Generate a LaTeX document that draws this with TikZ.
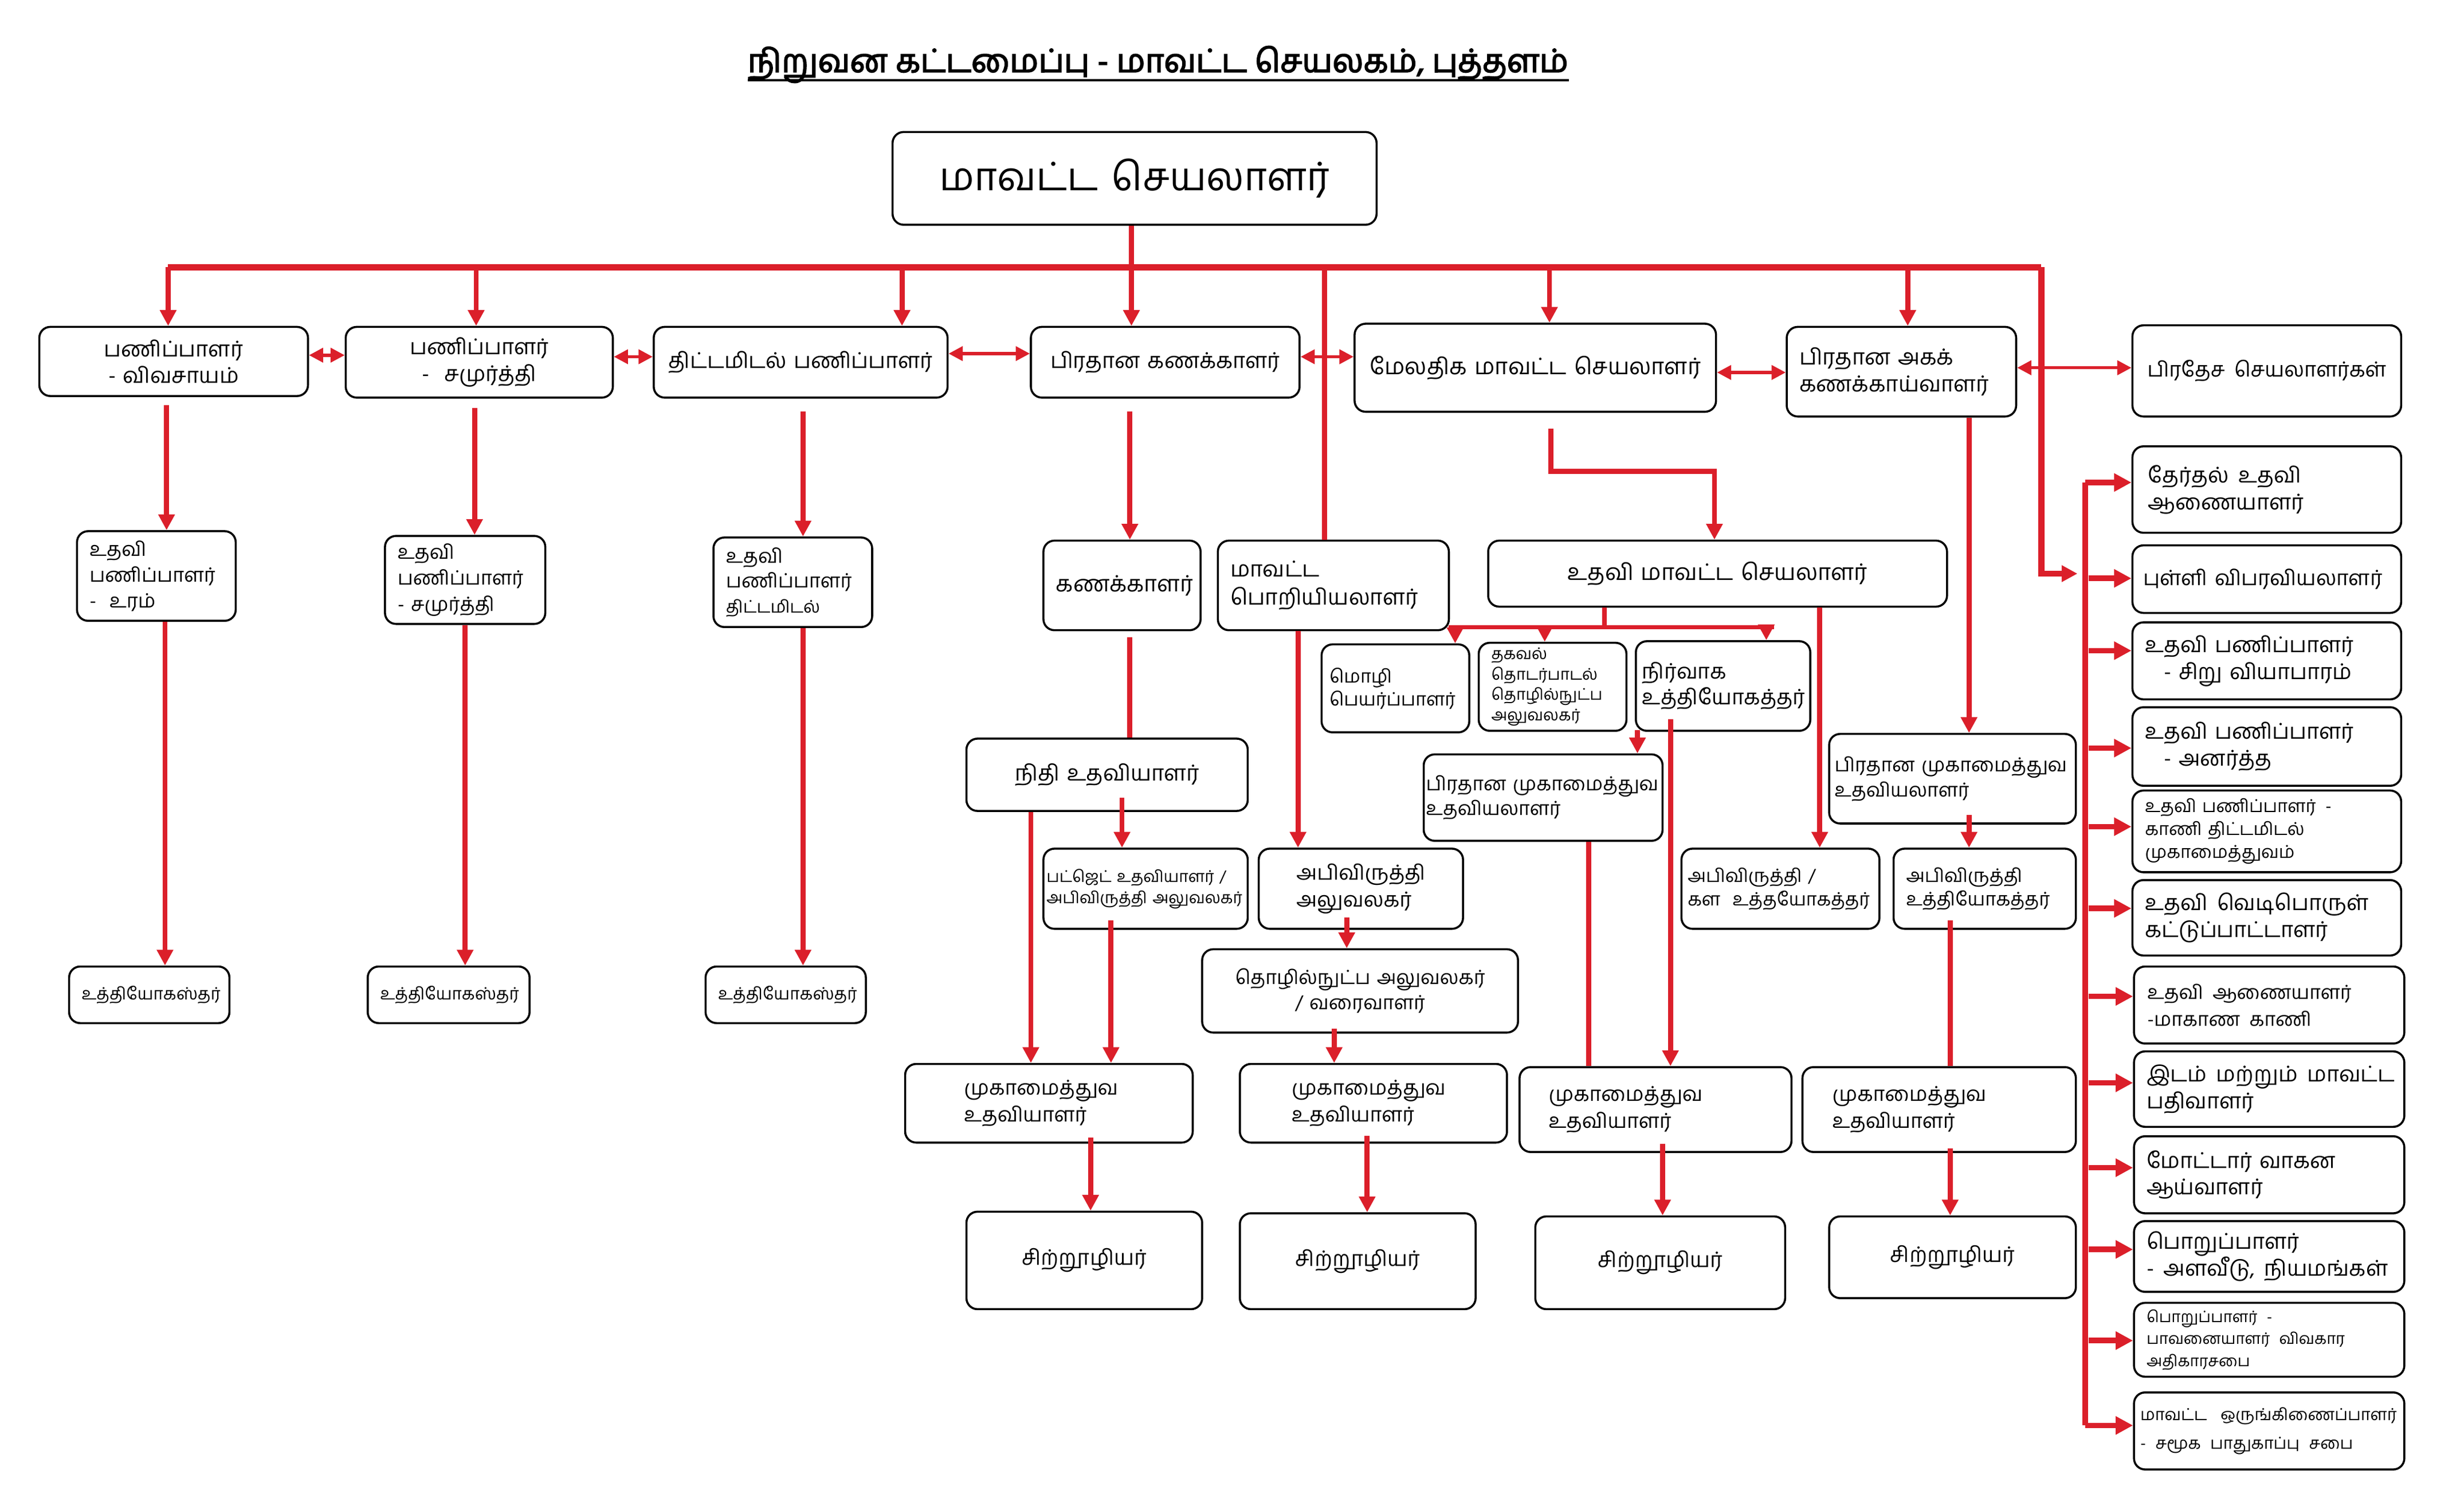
\documentclass[tikz,border=0pt]{standalone}
\usepackage{fontspec}
\setmainfont[Script=Tamil, AutoFakeBold=3]{Hind Madurai}
\usetikzlibrary{arrows.meta,calc}
\definecolor{lr}{RGB}{219,31,42}
\newcommand\fs[2]{\fontsize{#1}{#2}\selectfont}
\newcommand\gap{\hspace{6pt}}
\newcommand\mybox[7][]{%
  \pgfmathsetmacro\myBW{#5-#3}\pgfmathsetmacro\myBH{#6-#4}%
  \pgfmathsetmacro\myCX{(#3+#5)/2}\pgfmathsetmacro\myCY{(#4+#6)/2}%
  \pgfmathsetmacro\myTW{#5-#3-16}%
  \node[box, minimum width=\myBW pt, minimum height=\myBH pt, text width=\myTW pt, align=left, #1] (#2) at (\myCX,\myCY) {#7};}
\begin{document}
\begin{tikzpicture}[x=1pt,y=-1pt,
  box/.style={draw=black, line width=1.3pt, rounded corners=7pt, inner sep=0pt, fill=white, font=\fs{13.8}{17}},
  rl/.style={draw=lr, line width=3.2pt},
  ar/.style={rl, -{Triangle[length=10pt,width=10pt]}},
  ar2/.style={draw=lr, line width=2.6pt, -{Triangle[length=10pt,width=10pt]}},
  bus/.style={draw=lr, line width=4pt},
  dbl/.style={draw=lr, line width=2pt, {Triangle[length=9pt,width=9pt]}-{Triangle[length=9pt,width=9pt]}},
  spl/.style={draw=lr, line width=3.9pt},
  spar/.style={draw=lr, line width=3.5pt, -{Triangle[length=11pt,width=11pt]}},
  ttl/.style={font=\fs{20.5}{24}\bfseries, inner sep=0pt}]
\fill[white] (0,0) rectangle (1568,948);
\useasboundingbox (0,0) rectangle (1568,948);

\node[ttl] (title) at (737,41) {நிறுவன கட்டமைப்பு - மாவட்ட செயலகம், புத்தளம்};
\draw[line width=1.6pt] (title.west |- 0,51) -- (title.east |- 0,51);

\mybox[align=center, font=\fs{25}{30}]{top}{568}{84}{876}{143}{மாவட்ட செயலாளர்}
% row 1
\mybox[align=center]{b1}{25}{208}{196}{252}{பணிப்பாளர்\\- விவசாயம்}
\mybox[align=center]{b2}{220}{208}{390}{253}{பணிப்பாளர்\\-\ \ சமுர்த்தி}
\mybox[align=center]{b3}{416}{208}{603}{253}{திட்டமிடல் பணிப்பாளர்}
\mybox[align=center]{b4}{656}{208}{827}{253}{பிரதான கணக்காளர்}
\mybox[align=center, font=\fs{14.5}{17}]{b5}{862}{206}{1092}{262}{மேலதிக மாவட்ட செயலாளர்}
\mybox[font=\fs{14}{17}]{b6}{1137}{208}{1283}{265}{பிரதான அகக்\\கணக்காய்வாளர்}
\mybox[align=center, font=\fs{13.2}{17}]{b7}{1357}{207}{1528}{265}{\mbox{பிரதேச\gap செயலாளர்கள்}}
% left columns
\mybox[font=\fs{12.5}{16.5}]{c1}{49}{338}{150}{395}{உதவி\\பணிப்பாளர்\\-\ \ உரம்}
\mybox[font=\fs{12.5}{16.5}]{c2}{245}{341}{347}{397}{உதவி\\பணிப்பாளர்\\- சமுர்த்தி}
\mybox[font=\fs{12.5}{16}]{c3}{454}{342}{555}{399}{உதவி\\பணிப்பாளர்\\{\fs{11}{14}திட்டமிடல்}}
\mybox[align=center, font=\fs{10.8}{14}]{d1}{44}{615}{146}{651}{உத்தியோகஸ்தர்}
\mybox[align=center, font=\fs{10.8}{14}]{d2}{234}{615}{337}{651}{உத்தியோகஸ்தர்}
\mybox[align=center, font=\fs{10.8}{14}]{d3}{449}{615}{551}{651}{உத்தியோகஸ்தர்}
% middle
\mybox[align=center, font=\fs{14.3}{18}]{kan}{664}{344}{764}{401}{கணக்காளர்}
\mybox[font=\fs{14}{18}]{pori}{775}{344}{922}{401}{மாவட்ட\\பொறியியலாளர்}
\mybox[align=center, font=\fs{14.5}{17}]{udms}{947}{344}{1239}{386}{உதவி மாவட்ட செயலாளர்}
\mybox[font=\fs{11.7}{14.5}, text width=84pt]{mozhi}{841}{410}{935}{466}{மொழி\\பெயர்ப்பாளர்}
\mybox[font=\fs{10.2}{13}]{thaka}{941}{409}{1035}{465}{தகவல்\\தொடர்பாடல்\\தொழில்நுட்ப\\அலுவலகர்}
\mybox[font=\fs{13.5}{16.5}, text width=103pt]{nir}{1041}{408}{1152}{465}{நிர்வாக\\உத்தியோகத்தர்\\[7pt]}
\mybox[font=\fs{12.3}{16}, text width=149pt]{pmu1}{906}{480}{1058}{535}{பிரதான முகாமைத்துவ\\உதவியலாளர்}
\mybox[font=\fs{11.7}{15}, text width=118pt]{kala}{1070}{540}{1196}{591}{அபிவிருத்தி /\\கள\ \ உத்தயோகத்தர்}
\mybox[font=\fs{12.3}{16}, text width=150pt]{pmu2}{1164}{467}{1321}{524}{பிரதான முகாமைத்துவ\\உதவியலாளர்}
\mybox[font=\fs{11.9}{15}, text width=100pt]{abu}{1205}{540}{1321}{591}{அபிவிருத்தி\\உத்தியோகத்தர்}
\mybox[align=center, font=\fs{14}{17}]{nithi}{615}{470}{794}{516}{நிதி உதவியாளர்}
\mybox[font=\fs{10.3}{13.5}, text width=126pt]{budget}{664}{540}{794}{591}{பட்ஜெட் உதவியாளர் /\\அபிவிருத்தி அலுவலகர்}
\mybox[font=\fs{13.2}{17}, text width=82pt]{abal}{801}{540}{931}{591}{அபிவிருத்தி\\அலுவலகர்}
\mybox[align=center, font=\fs{12.4}{16}]{thoz}{765}{604}{966}{657}{தொழில்நுட்ப அலுவலகர்\\/ வரைவாளர்}
\mybox[font=\fs{13}{17}, text width=108pt]{m1}{576}{677}{759}{727}{முகாமைத்துவ\\உதவியாளர்}
\mybox[font=\fs{13}{17}, text width=104pt]{m2}{789}{677}{959}{727}{முகாமைத்துவ\\உதவியாளர்}
\mybox[font=\fs{13}{17}, text width=136pt]{m3}{967}{679}{1140}{733}{முகாமைத்துவ\\உதவியாளர்}
\mybox[font=\fs{13}{17}, text width=136pt]{m4}{1147}{679}{1321}{733}{முகாமைத்துவ\\உதவியாளர்}
\mybox[align=center, font=\fs{13.6}{17}]{s1}{615}{771}{765}{833}{சிற்றூழியர்}
\mybox[align=center, font=\fs{13.6}{17}]{s2}{789}{772}{939}{833}{சிற்றூழியர்}
\mybox[align=center, font=\fs{13.6}{17}]{s3}{977}{774}{1136}{833}{சிற்றூழியர்}
\mybox[align=center, font=\fs{13.6}{17}]{s4}{1164}{774}{1321}{826}{சிற்றூழியர்}
% right column
\mybox[text width=151pt]{r1}{1357}{284}{1528}{339}{தேர்தல்\gap உதவி\\ஆணையாளர்}
\mybox[font=\fs{13.4}{17}, text width=157pt]{r2}{1357}{347}{1528}{390}{\mbox{புள்ளி விபரவியலாளர்}}
\mybox[text width=155pt]{r3}{1357}{396}{1528}{445}{உதவி பணிப்பாளர்\\\hspace*{12pt}- சிறு வியாபாரம்}
\mybox[text width=155pt]{r4}{1357}{450}{1528}{500}{உதவி பணிப்பாளர்\\\hspace*{12pt}- அனர்த்த}
\mybox[font=\fs{11.3}{14.5}, text width=155pt]{r5}{1357}{503}{1528}{555}{உதவி பணிப்பாளர்\gap -\\காணி திட்டமிடல்\\முகாமைத்துவம்}
\mybox[text width=155pt]{r6}{1357}{560}{1528}{608}{உதவி\gap வெடிபொருள்\\கட்டுப்பாட்டாளர்}
\mybox[font=\fs{12.3}{17}, text width=155pt]{r7}{1358}{615}{1530}{664}{உதவி\gap ஆணையாளர்\\-மாகாண\gap காணி}
\mybox[text width=156pt]{r8}{1358}{669}{1530}{717}{\mbox{இடம்\gap மற்றும்\gap மாவட்ட}\\பதிவாளர்}
\mybox[text width=156pt]{r9}{1358}{723}{1530}{772}{மோட்டார் வாகன\\ஆய்வாளர்}
\mybox[text width=156pt]{r10}{1358}{777}{1530}{822}{பொறுப்பாளர்\\\mbox{-\gap அளவீடு,\gap நியமங்கள்}}
\mybox[font=\fs{10}{14}, text width=156pt]{r11}{1358}{829}{1530}{876}{பொறுப்பாளர்\gap -\\பாவனையாளர்\gap விவகார\\அதிகாரசபை}
\mybox[font=\fs{10.5}{18.5}, text width=164pt]{r12}{1358}{886}{1530}{935}{\mbox{மாவட்ட\hspace{5pt} ஒருங்கிணைப்பாளர்}\\\mbox{-\gap சமூக\gap பாதுகாப்பு\gap சபை}}

% ---- connectors ----
\coordinate (busL) at (107,170);
\coordinate (busR) at (1299,170);
\draw[bus] (busL) -- (busR);
\draw[ar] (top.south -| 720,0) -- (b4.north -| 720,0);
\draw[ar] (busL) -- (b1.north -| busL);
\draw[ar] (303,170) -- (b2.north -| 303,0);
\draw[ar] (574,170) -- (b3.north -| 574,0);
\draw[ar] (986,170) -- (b5.north -| 986,0);
\draw[ar] (1214,170) -- (b6.north -| 1214,0);
\draw[rl] (843,170) -- (pori.north -| 843,0);
\coordinate (toSpine) at (1322,365);
\draw[ar, line width=3.9pt] (busR) -- (1299,365) -- (toSpine);

\draw[dbl] (b1.east |- 0,226) -- (b2.west |- 0,226);
\draw[dbl] (b2.east |- 0,227) -- (b3.west |- 0,227);
\draw[dbl] (b3.east |- 0,225) -- (b4.west |- 0,225);
\draw[dbl] (b4.east |- 0,227) -- (b5.west |- 0,227);
\draw[dbl] (b5.east |- 0,237) -- (b6.west |- 0,237);
\draw[dbl] (b6.east |- 0,234) -- (b7.west |- 0,234);

\draw[ar] ($(b1.south -| 106,0)+(0,5)$) -- (c1.north -| 106,0);
\draw[ar] ($(b2.south -| 302,0)+(0,6)$) -- (c2.north -| 302,0);
\draw[ar] ($(b3.south -| 511,0)+(0,8)$) -- (c3.north -| 511,0);
\draw[ar] (c1.south -| 105,0) -- (d1.north -| 105,0);
\draw[ar] (c2.south -| 296,0) -- (d2.north -| 296,0);
\draw[ar] (c3.south -| 511,0) -- (d3.north -| 511,0);

\draw[ar] ($(b4.south -| 719,0)+(0,8)$) -- (kan.north -| 719,0);
\draw[rl] ($(kan.south -| 719,0)+(0,4)$) -- (nithi.north -| 719,0);
\draw[ar] ($(nithi.south -| 714,0)+(0,-9)$) -- (budget.north -| 714,0);
\draw[ar] (nithi.south -| 656,0) -- (m1.north -| 656,0);
\draw[ar] ($(budget.south -| 707,0)+(0,-6)$) -- (m1.north -| 707,0);
\draw[ar] (pori.south -| 826,0) -- (abal.north -| 826,0);
\draw[ar] ($(abal.south -| 857,0)+(0,-8)$) -- (thoz.north -| 857,0);
\draw[ar] ($(thoz.south -| 849,0)+(0,-3)$) -- (m2.north -| 849,0);
\draw[ar] ($(b5.south -| 987,0)+(0,10)$) -- (987,300) -- (1091,300) -- (udms.north -| 1091,0);
\coordinate (sb) at (1021,399);
\draw[rl, line width=2.6pt] (udms.south -| sb) -- (sb);
\draw[rl, line width=2.6pt] (922,399) -- (1129,399);
\draw[ar2] (926,399) -- (mozhi.north -| 926,0);
\draw[ar2] (983,399) -- (thaka.north -| 983,0);
\draw[ar2] (1124,399) -- (nir.north -| 1124,0);
\draw[ar] ($(nir.south -| 1042,0)+(0,-1)$) -- (pmu1.north -| 1042,0);
\draw[ar] ($(nir.south -| 1063,0)+(0,-8)$) -- (m3.north -| 1063,0);
\draw[rl] (pmu1.south -| 1011,0) -- (m3.north -| 1011,0);
\draw[ar] (udms.south -| 1158,0) -- (kala.north -| 1158,0);
\draw[ar] (b6.south -| 1253,0) -- (pmu2.north -| 1253,0);
\draw[ar] ($(pmu2.south -| 1253,0)+(0,-6)$) -- (abu.north -| 1253,0);
\draw[rl] ($(abu.south -| 1241,0)+(0,-6)$) -- (m4.north -| 1241,0);
\draw[ar] ($(m1.south -| 694,0)+(0,-4)$) -- (s1.north -| 694,0);
\draw[ar] ($(m2.south -| 870,0)+(0,-5)$) -- (s2.north -| 870,0);
\draw[ar] ($(m3.south -| 1058,0)+(0,-6)$) -- (s3.north -| 1058,0);
\draw[ar] ($(m4.south -| 1241,0)+(0,-3)$) -- (s4.north -| 1241,0);

% right spine
\coordinate (spT) at (1327,307);
\coordinate (spB) at (1327,907);
\draw[spl] (spT) -- (spB);
\draw[spar] (spT) -- (r1.west |- spT);
\draw[spar] (spB) -- (r12.west |- spB);
\foreach \n/\yy in {r2/368, r3/414, r4/476, r5/526, r6/578, r7/634, r8/689, r9/743, r10/795, r11/853}
  \draw[spar] (1329,\yy) -- (\n.west |- 0,\yy);
\end{tikzpicture}
\end{document}
